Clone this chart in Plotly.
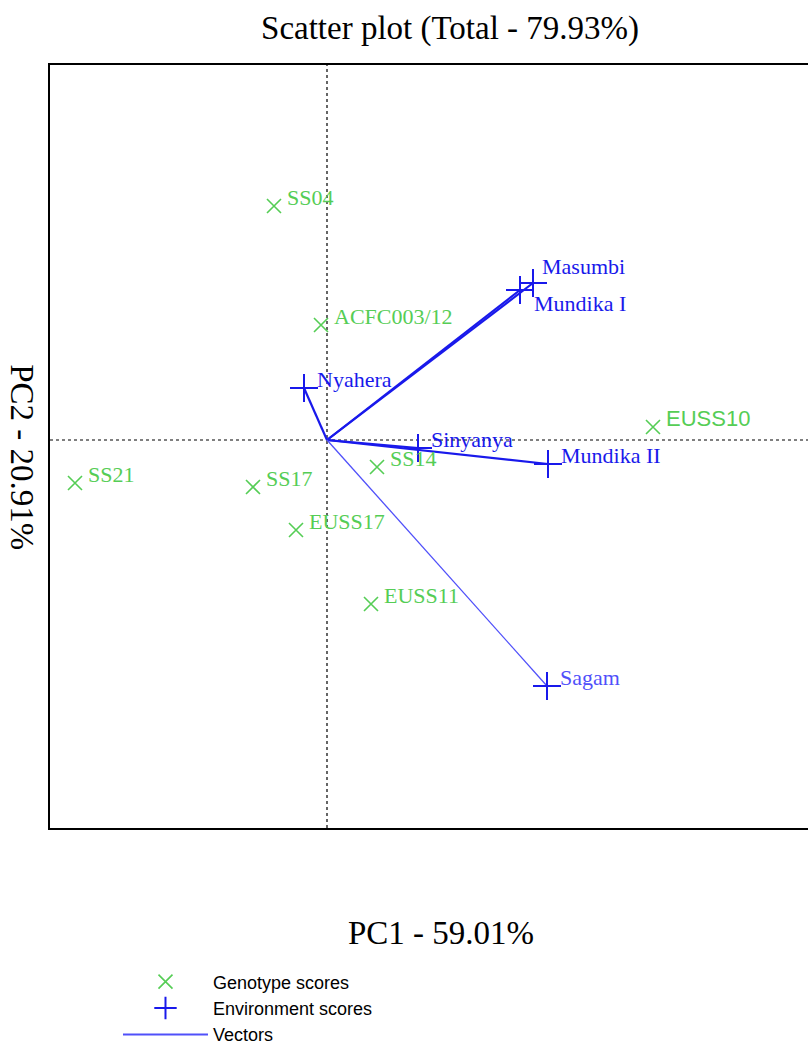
import plotly.graph_objects as go

# ---------------- data ----------------
genotypes = ["SS04", "ACFC003/12", "SS21", "SS17", "EUSS17", "SS14", "EUSS11", "EUSS10"]
geno_pc1 = [-0.53, -0.06, -2.52, -0.74, -0.31, 0.50, 0.44, 3.26]
geno_pc2 = [2.34, 1.15, -0.43, -0.47, -0.90, -0.27, -1.64, 0.13]

environments = ["Masumbi", "Mundika I", "Nyahera", "Sinyanya", "Mundika II", "Sagam"]
env_pc1 = [2.06, 1.93, -0.23, 0.91, 2.21, 2.20]
env_pc2 = [1.57, 1.50, 0.52, -0.08, -0.24, -2.46]

title_text = "Scatter plot (Total - 79.93%)"
x_title = "PC1 - 59.01%"
y_title = "PC2 - 20.91%"
legend_names = ["Genotype scores", "Environment scores", "Vectors"]

# ---------------- styles ----------------
GREEN = "rgb(85,205,85)"
BLUE = "rgb(25,25,235)"
BLUE_LIGHT = "rgb(80,80,250)"
SERIF = "Liberation Serif, Times New Roman, serif"
SANS = "Liberation Sans, Arial, sans-serif"

fig = go.Figure()

# vectors (one line per environment from origin)
thin_vec = {"Sagam"}
for i, name in enumerate(environments):
    fig.add_trace(go.Scatter(
        x=[0, env_pc1[i]], y=[0, env_pc2[i]], mode="lines",
        line=dict(color=BLUE_LIGHT if name in thin_vec else BLUE,
                  width=1.3 if name in thin_vec else 2.2),
        showlegend=False, hoverinfo="skip"))

fig.add_trace(go.Scatter(
    x=geno_pc1, y=geno_pc2, mode="markers", name=legend_names[0],
    marker=dict(symbol="x-thin", size=14, line=dict(color=GREEN, width=1.6), color=GREEN)))
fig.add_trace(go.Scatter(
    x=env_pc1, y=env_pc2, mode="markers", name=legend_names[1],
    marker=dict(symbol="cross-thin", size=20, line=dict(color=BLUE, width=2), color=BLUE)))
# legend-only entry for vectors
fig.add_trace(go.Scatter(
    x=[None], y=[None], mode="lines", name=legend_names[2],
    line=dict(color=BLUE_LIGHT, width=2)))

annotations = []
sans_labels = {"EUSS10"}
for name, x, y in zip(genotypes, geno_pc1, geno_pc2):
    annotations.append(dict(
        x=x, y=y, xref="x", yref="y", text=name, showarrow=False,
        xanchor="left", yanchor="middle", xshift=11, yshift=9,
        font=dict(family=SANS if name in sans_labels else SERIF, size=22, color=GREEN)))

env_shift = {"Masumbi": (7, 17), "Mundika I": (12, -13)}
for name, x, y in zip(environments, env_pc1, env_pc2):
    xs, ys = env_shift.get(name, (11, 9))
    annotations.append(dict(
        x=x, y=y, xref="x", yref="y", text=name, showarrow=False,
        xanchor="left", yanchor="middle", xshift=xs, yshift=ys,
        font=dict(family=SERIF, size=22,
                  color=BLUE_LIGHT if name == "Sagam" else BLUE)))

# axis titles
annotations.append(dict(x=0.516, y=-0.1376, xref="paper", yref="paper", text=x_title,
                        showarrow=False, xanchor="center", yanchor="middle",
                        font=dict(family=SERIF, size=33, color="black")))
annotations.append(dict(x=-0.0369, y=0.486, xref="paper", yref="paper", text=y_title,
                        showarrow=False, xanchor="center", yanchor="middle", textangle=90,
                        font=dict(family=SERIF, size=33, color="black")))

shapes = [
    dict(type="line", xref="x", yref="paper", x0=0, x1=0, y0=0, y1=1,
         line=dict(color="black", width=1.2, dash="dot"), layer="below"),
    dict(type="line", xref="paper", yref="y", x0=0, x1=1, y0=0, y1=0,
         line=dict(color="black", width=1.2, dash="dot"), layer="below"),
]

fig.update_layout(
    width=808, height=1055,
    margin=dict(l=50, r=0, t=65, b=227),
    paper_bgcolor="white", plot_bgcolor="white",
    title=dict(text=title_text, x=0.557, xanchor="center", y=0.974, yanchor="middle",
               yref="container", font=dict(family=SERIF, size=33, color="black")),
    xaxis=dict(range=[-2.77, 4.81], showgrid=False, zeroline=False, showticklabels=False,
               ticks="", showline=True, mirror=True, linecolor="black", linewidth=2),
    yaxis=dict(range=[-3.88, 3.75], showgrid=False, zeroline=False, showticklabels=False,
               ticks="", showline=True, mirror=False, linecolor="black", linewidth=2),
    showlegend=True,
    legend=dict(x=0.0897, y=-0.2955, xanchor="left", yanchor="bottom", itemwidth=85,
                font=dict(family=SANS, size=18, color="black"), tracegroupgap=0,
                bgcolor="rgba(0,0,0,0)"),
    annotations=annotations,
    shapes=shapes,
)

fig.write_html("out.html")
